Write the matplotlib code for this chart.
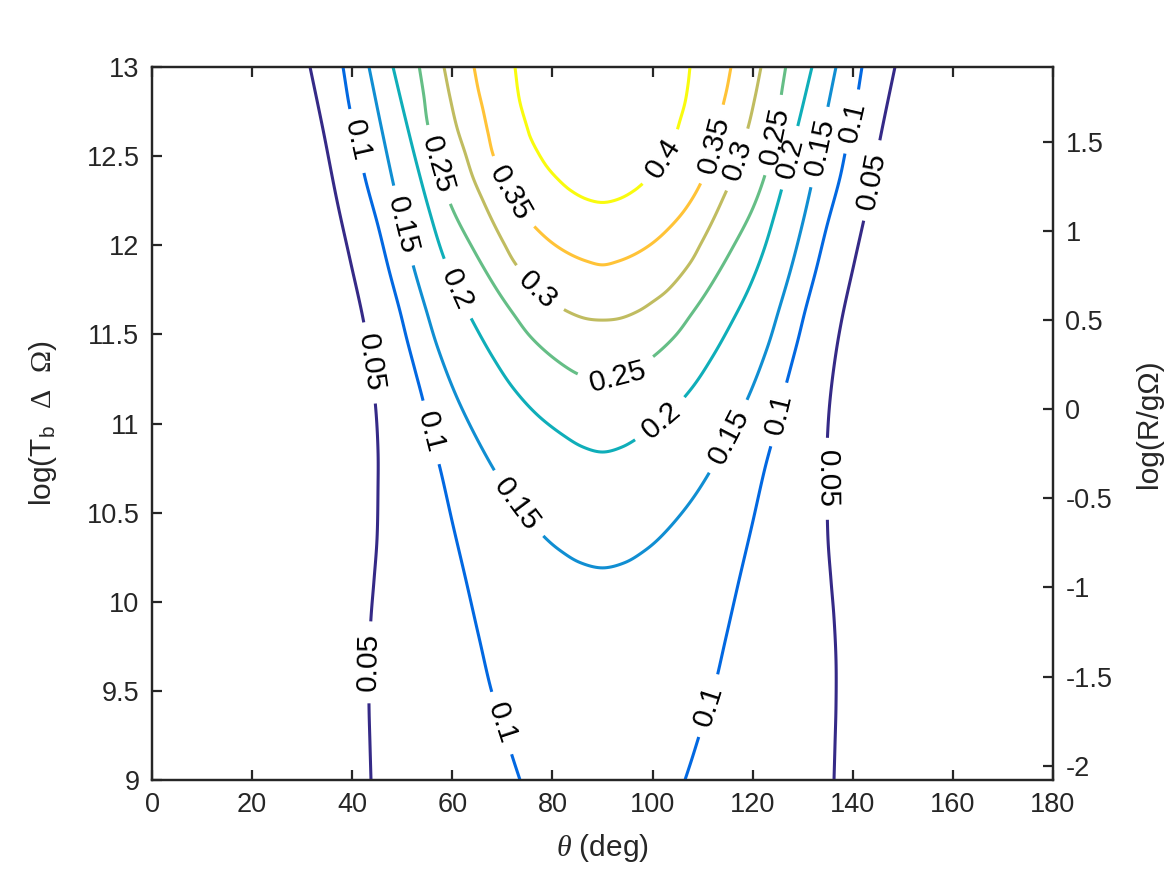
import numpy as np
import matplotlib
matplotlib.use('Agg')
import matplotlib.pyplot as plt
from matplotlib.colors import ListedColormap, Normalize

plt.rcParams['font.family'] = ['Liberation Sans', 'DejaVu Sans']
plt.rcParams['axes.unicode_minus'] = False
plt.rcParams['mathtext.fontset'] = 'custom'
plt.rcParams['mathtext.rm'] = 'Liberation Serif'
plt.rcParams['mathtext.sf'] = 'Liberation Sans'
plt.rcParams['mathtext.it'] = 'Liberation Serif:italic'

# ---------------- data ----------------
levels = [0.05, 0.1, 0.15, 0.2, 0.25, 0.3, 0.35, 0.4]

# left halves of each contour (theta in deg, log(Tb dOmega)); field is symmetric about 90 deg
c05_th = [31.57, 34.16, 36.96, 39.56, 42.15, 43.55, 44.65, 45.15, 45.15, 44.95, 44.35, 43.75, 43.35, 43.35, 43.55, 43.75]
c05_lt = [13.00, 12.65, 12.25, 11.92, 11.59, 11.36, 11.10, 10.85, 10.63, 10.35, 10.12, 9.91, 9.67, 9.42, 9.20, 9.00]

c10_th = [38.16, 39.56, 41.15, 42.55, 45.15, 47.35, 49.54, 50.94, 52.54, 54.14, 55.74, 57.54, 60.13, 62.73, 65.33, 67.92, 70.12, 72.12, 73.52]
c10_lt = [13.00, 12.76, 12.57, 12.38, 12.11, 11.86, 11.63, 11.47, 11.30, 11.13, 10.94, 10.75, 10.43, 10.12, 9.80, 9.49, 9.30, 9.12, 9.00]

c15_th = [43.35, 45.75, 48.25, 50.14, 52.34, 54.74, 57.14, 61.33, 67.72, 72.72, 78.51, 81.91, 85.51, 90.0]
c15_lt = [13.00, 12.67, 12.34, 12.11, 11.87, 11.64, 11.42, 11.12, 10.77, 10.55, 10.36, 10.28, 10.22, 10.19]

c20_th = [48.15, 50.54, 52.94, 55.34, 57.93, 60.73, 64.13, 68.12, 72.12, 76.92, 82.11, 86.11, 90.0]
c20_lt = [13.00, 12.72, 12.45, 12.20, 11.96, 11.76, 11.57, 11.37, 11.20, 11.05, 10.935, 10.868, 10.84]

c25_th = [53.4, 54.3, 55.0, 56.94, 59.93, 64.33, 68.92, 72.32, 75.52, 80.11, 84.91, 87.50, 90.0]
c25_lt = [13.00, 12.84, 12.69, 12.45, 12.21, 11.97, 11.75, 11.61, 11.49, 11.37, 11.28, 11.256, 11.25]

c30_th = [58.33, 59.53, 60.93, 62.53, 64.13, 66.13, 68.12, 70.32, 72.52, 76.91, 80.11, 82.91, 86.51, 90.0]
c30_lt = [13.00, 12.83, 12.66, 12.52, 12.38, 12.25, 12.13, 12.01, 11.90, 11.75, 11.68, 11.63, 11.59, 11.58]

c35_th = [64.33, 65.13, 66.13, 67.13, 68.12, 70.52, 73.52, 76.91, 80.11, 83.51, 86.90, 90.0]
c35_lt = [13.00, 12.88, 12.76, 12.63, 12.51, 12.34, 12.20, 12.09, 12.01, 11.95, 11.91, 11.89]

c40_th = [72.52, 72.92, 73.52, 74.52, 75.52, 77.12, 78.91, 81.11, 83.51, 86.70, 90.0]
c40_lt = [13.00, 12.90, 12.80, 12.70, 12.61, 12.52, 12.44, 12.37, 12.31, 12.26, 12.24]

# contour labels: (level, theta, logT) approximate centre
label_pos = [
    (0.1, 40.16, 12.58), (0.15, 50.14, 12.11), (0.25, 56.94, 12.45), (0.35, 71.52, 12.29),
    (0.2, 60.53, 11.75), (0.3, 77.11, 11.75), (0.05, 43.55, 11.34), (0.1, 55.74, 10.95),
    (0.15, 73.12, 10.55), (0.25, 92.9, 11.28), (0.2, 102.3, 11.00), (0.4, 102.5, 12.48),
    (0.35, 112.9, 12.56), (0.3, 118.1, 12.47), (0.25, 125.5, 12.61), (0.2, 128.9, 12.48),
    (0.15, 133.5, 12.55), (0.1, 140.4, 12.69), (0.05, 144.4, 12.36), (0.15, 114.3, 10.94),
    (0.1, 125.3, 11.05), (0.05, 135.6, 10.69), (0.05, 43.55, 9.66), (0.1, 69.92, 9.32),
    (0.1, 111.9, 9.41),
]
label_reads_down = {21}   # vertical label that reads top-to-bottom

xticks = [0, 20, 40, 60, 80, 100, 120, 140, 160, 180]
yticks_left = [9, 9.5, 10, 10.5, 11, 11.5, 12, 12.5, 13]
yticks_right = [-2, -1.5, -1, -0.5, 0, 0.5, 1, 1.5]

# parula colormap (MATLAB)
parula = [
 [0.2081,0.1663,0.5292],[0.2116,0.1898,0.5777],[0.2123,0.2138,0.6270],[0.2081,0.2386,0.6771],
 [0.1959,0.2645,0.7279],[0.1707,0.2919,0.7792],[0.1253,0.3242,0.8303],[0.0591,0.3598,0.8683],
 [0.0117,0.3875,0.8820],[0.0060,0.4086,0.8828],[0.0165,0.4266,0.8786],[0.0329,0.4430,0.8720],
 [0.0498,0.4586,0.8641],[0.0629,0.4737,0.8554],[0.0723,0.4887,0.8467],[0.0779,0.5040,0.8384],
 [0.0793,0.5200,0.8312],[0.0749,0.5375,0.8263],[0.0641,0.5570,0.8240],[0.0488,0.5772,0.8228],
 [0.0343,0.5966,0.8199],[0.0265,0.6137,0.8135],[0.0239,0.6287,0.8038],[0.0231,0.6418,0.7913],
 [0.0228,0.6535,0.7768],[0.0267,0.6642,0.7607],[0.0384,0.6743,0.7436],[0.0590,0.6838,0.7254],
 [0.0843,0.6928,0.7062],[0.1133,0.7015,0.6859],[0.1453,0.7098,0.6646],[0.1801,0.7177,0.6424],
 [0.2178,0.7250,0.6193],[0.2586,0.7317,0.5954],[0.3022,0.7376,0.5712],[0.3482,0.7424,0.5473],
 [0.3953,0.7459,0.5244],[0.4420,0.7481,0.5033],[0.4871,0.7491,0.4840],[0.5300,0.7491,0.4661],
 [0.5709,0.7485,0.4494],[0.6099,0.7473,0.4337],[0.6473,0.7456,0.4188],[0.6834,0.7435,0.4044],
 [0.7184,0.7411,0.3905],[0.7525,0.7384,0.3768],[0.7858,0.7356,0.3633],[0.8185,0.7327,0.3498],
 [0.8507,0.7299,0.3360],[0.8824,0.7274,0.3217],[0.9139,0.7258,0.3063],[0.9450,0.7261,0.2886],
 [0.9739,0.7314,0.2666],[0.9938,0.7455,0.2403],[0.9990,0.7653,0.2164],[0.9955,0.7861,0.1967],
 [0.9880,0.8066,0.1794],[0.9789,0.8271,0.1633],[0.9697,0.8481,0.1475],[0.9626,0.8705,0.1309],
 [0.9589,0.8949,0.1132],[0.9598,0.9218,0.0948],[0.9661,0.9514,0.0755],[0.9763,0.9831,0.0538]]
cmap = ListedColormap(parula)
norm = Normalize(vmin=min(levels), vmax=max(levels))

halves = {0.05: (c05_th, c05_lt), 0.1: (c10_th, c10_lt), 0.15: (c15_th, c15_lt),
          0.2: (c20_th, c20_lt), 0.25: (c25_th, c25_lt), 0.3: (c30_th, c30_lt),
          0.35: (c35_th, c35_lt), 0.4: (c40_th, c40_lt)}
open_branches = {0.05, 0.1}   # these reach the bottom edge: two separate branches

def build_curves(level):
    th, lt = np.array(halves[level][0]), np.array(halves[level][1])
    if level in open_branches:
        return [(th, lt), (180.0 - th, lt)]
    full_th = np.concatenate([th, (180.0 - th[:-1])[::-1]])
    full_lt = np.concatenate([lt, lt[:-1][::-1]])
    return [(full_th, full_lt)]

def smooth_path(P, m=10):
    """Centripetal Catmull-Rom rendering of a polyline through the given points (display space)."""
    P = np.asarray(P, float)
    if len(P) < 3:
        return P
    ext = np.vstack([2 * P[0] - P[1], P, 2 * P[-1] - P[-2]])
    out = []
    for i in range(1, len(ext) - 2):
        p0, p1, p2, p3 = ext[i - 1], ext[i], ext[i + 1], ext[i + 2]
        t0 = 0.0
        t1 = t0 + max(np.hypot(*(p1 - p0)), 1e-6) ** 0.5
        t2 = t1 + max(np.hypot(*(p2 - p1)), 1e-6) ** 0.5
        t3 = t2 + max(np.hypot(*(p3 - p2)), 1e-6) ** 0.5
        for t in np.linspace(t1, t2, m, endpoint=False):
            a1 = (t1 - t) / (t1 - t0) * p0 + (t - t0) / (t1 - t0) * p1
            a2 = (t2 - t) / (t2 - t1) * p1 + (t - t1) / (t2 - t1) * p2
            a3 = (t3 - t) / (t3 - t2) * p2 + (t - t2) / (t3 - t2) * p3
            b1 = (t2 - t) / (t2 - t0) * a1 + (t - t0) / (t2 - t0) * a2
            b2 = (t3 - t) / (t3 - t1) * a2 + (t - t1) / (t3 - t1) * a3
            out.append((t2 - t) / (t2 - t1) * b1 + (t - t1) / (t2 - t1) * b2)
    out.append(P[-1])
    return np.array(out)

# ---------------- figure ----------------
FS = 19.5          # tick labels
FSL = 21.5         # axis labels and contour labels
axcol = '#262626'
fig = plt.figure(figsize=(11.67, 8.75), dpi=100)
ax = fig.add_axes([152/1167, 95/875, 901/1167, 713/875])
ax.set_xlim(0, 180)
ax.set_ylim(9, 13)
ax2 = ax.twinx()
ax2.set_ylim(-2.08, 1.92)

renderer = fig.canvas.get_renderer()
to_disp = ax.transData.transform
to_data = ax.transData.inverted().transform

def text_width(s):
    t = ax.text(0, 0, s, fontsize=FSL)
    w = t.get_window_extent(renderer).width
    t.remove()
    return w

GAP_PAD = 12.0
for lev in levels:
    color = cmap(norm(lev))
    polys = []
    for th, lt in build_curves(lev):
        P = smooth_path(to_disp(np.column_stack([th, lt])))
        seg = np.hypot(np.diff(P[:, 0]), np.diff(P[:, 1]))
        cum = np.concatenate([[0.0], np.cumsum(seg)])
        polys.append({'P': P, 'cum': cum, 'gaps': []})
    lab = '%g' % lev
    w = text_width(lab)
    for idx, (lv, lth, llt) in enumerate(label_pos):
        if lv != lev:
            continue
        q = to_disp([[lth, llt]])[0]
        best = None
        for k, pl in enumerate(polys):
            P, cum = pl['P'], pl['cum']
            for i in range(len(P) - 1):
                a, b = P[i], P[i + 1]
                ab = b - a
                L2 = ab @ ab
                t = 0.0 if L2 == 0 else np.clip((q - a) @ ab / L2, 0, 1)
                pt = a + t * ab
                d = np.hypot(*(q - pt))
                if best is None or d < best[0]:
                    best = (d, k, cum[i] + t * (cum[i + 1] - cum[i]))
        _, k, s0 = best
        pl = polys[k]
        P, cum = pl['P'], pl['cum']
        x0 = np.interp(s0, cum, P[:, 0]); y0 = np.interp(s0, cum, P[:, 1])
        sa, sb = max(s0 - 18, 0), min(s0 + 18, cum[-1])
        dx = np.interp(sb, cum, P[:, 0]) - np.interp(sa, cum, P[:, 0])
        dy = np.interp(sb, cum, P[:, 1]) - np.interp(sa, cum, P[:, 1])
        ang = np.degrees(np.arctan2(dy, dx))
        if ang > 90.5:
            ang -= 180
        elif ang < -90.5:
            ang += 180
        if idx in label_reads_down and ang > 0:
            ang -= 180
        pl['gaps'].append((s0 - w / 2 - GAP_PAD, s0 + w / 2 + GAP_PAD))
        xd, yd = to_data([[x0, y0]])[0]
        ax.text(xd, yd, lab, fontsize=FSL, rotation=ang, rotation_mode='anchor',
                ha='center', va='center', color='black', zorder=5)
    for pl in polys:
        P, cum = pl['P'], pl['cum']
        gaps = sorted(pl['gaps'])
        keep = []
        start = 0.0
        for g0, g1 in gaps:
            if g0 > start:
                keep.append((start, g0))
            start = max(start, g1)
        if start < cum[-1]:
            keep.append((start, cum[-1]))
        for a, b in keep:
            inner = cum[(cum > a) & (cum < b)]
            s = np.concatenate([[a], inner, [b]])
            xs = np.interp(s, cum, P[:, 0]); ys = np.interp(s, cum, P[:, 1])
            D = to_data(np.column_stack([xs, ys]))
            ax.plot(D[:, 0], D[:, 1], color=color, lw=2.2, solid_capstyle='butt', zorder=3)

# ---------------- axes styling ----------------
ax.set_xticks(xticks)
ax.set_xticklabels(['%g' % v for v in xticks])
ax.set_yticks(yticks_left)
ax.set_yticklabels(['%g' % v for v in yticks_left])
ax2.set_yticks(yticks_right)
ax2.set_yticklabels(['%g' % v for v in yticks_right])

for a in (ax, ax2):
    for sp in a.spines.values():
        sp.set_color(axcol)
        sp.set_linewidth(1.6)
ax.tick_params(axis='x', which='both', direction='in', top=True, bottom=True,
               length=7, width=1.6, colors=axcol, labelsize=FS, pad=9)
ax.tick_params(axis='y', which='both', direction='in', left=True, right=False,
               length=7, width=1.6, colors=axcol, labelsize=FS, pad=9)
ax2.tick_params(axis='y', which='both', direction='in', right=True, left=False,
                length=7, width=1.6, colors=axcol, labelsize=FS, pad=9)

ax.set_xlabel(r'$\theta$ (deg)', fontsize=FSL, color=axcol, labelpad=10)
ax.set_ylabel(r'log(T$_{\mathsf{b}}$  $\Delta$  $\Omega$)', fontsize=FSL, color=axcol, labelpad=20)
ax2.set_ylabel('log(R/gΩ)', fontsize=FSL, color=axcol, labelpad=16)

fig.savefig('out.png', dpi=100, facecolor='white')
